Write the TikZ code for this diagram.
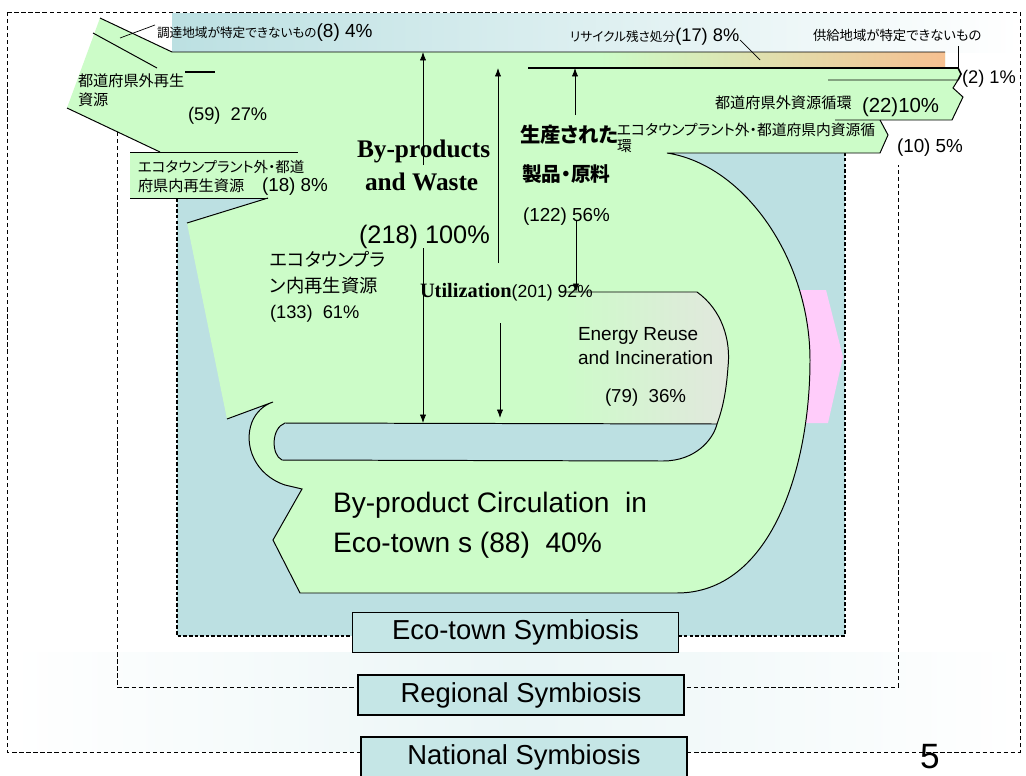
\documentclass[tikz,border=0pt]{standalone}
\usepackage{fontspec}
\setmainfont{Liberation Sans}
\newfontfamily\jp[RawFeature=+palt]{Noto Sans CJK JP}
\newfontfamily\tnr{Liberation Serif}
\usetikzlibrary{arrows.meta}
\definecolor{gr}{RGB}{204,252,200}
\definecolor{eb}{RGB}{188,224,226}
\definecolor{symb}{RGB}{197,230,230}
\definecolor{pk}{RGB}{255,204,250}
\definecolor{peach}{RGB}{246,192,145}
\definecolor{eg}{RGB}{226,231,222}
\newcommand\fsz[1]{\fontsize{#1}{#1}\selectfont}
\begin{document}
\begin{tikzpicture}[x=0.025cm,y=-0.025cm,
  lbl/.style={anchor=base west,inner sep=0pt,outer sep=0pt},
  ol/.style={draw=black,line width=0.7pt},
  arr/.style={-{Latex[length=6pt,width=4.5pt]},line width=0.6pt},
  dashframe/.style={draw=black,line width=0.5pt,dash pattern=on 3pt off 2pt},
  ecoframe/.style={draw=black,line width=1pt,dash pattern=on 2.5pt off 1.5pt},
  symbox/.style={draw=black,fill=symb,line width=0.8pt,inner sep=0pt,minimum width=8.15cm,minimum height=1cm,font=\fsz{19.5}}]
\useasboundingbox (0,0) rectangle (1026,776);
\clip (0,0) rectangle (1026,776);
\fill[white] (0,0) rectangle (1026,776);
% backgrounds
\shade[left color=white,right color=white,middle color=eb!30] (10,652) rectangle (1018,751);
\shade[left color=eb,right color=white] (172,13) rectangle (1019,52);
\fill[eb] (177,52) rectangle (845,636);
% frames
\draw[dashframe] (7,12) rectangle (1020,752);
\draw[dashframe] (117,132) -- (117,687) -- (898,687) -- (898,165);
\draw[ecoframe] (177,198) -- (177,636) -- (845,636) -- (845,153);
% pink arrow
\fill[pk] (790,290) -- (826,290) -- (843,357) -- (828,423) -- (790,423) -- cycle;
% main green flow
\fill[gr] (100,18) -- (172,52) -- (945,52) -- (945,68) -- (958,68) -- (961,74) -- (958,80) -- (953,88) -- (963,97) -- (952,120) -- (880,120) -- (888,135) -- (880,153) -- (667,153)
  .. controls (745,165) and (810,260) .. (810,360)
  .. controls (810,470) and (770,593) .. (677,593)
  -- (300,593) -- (273,540) -- (302,489) -- (285,485)
  .. controls (255,475) and (243,445) .. (252,422)
  .. controls (256,412) and (264,405) .. (273,402)
  -- (227,419) -- (187,223) -- (268,198) -- (298,198) -- (298,152) -- (160,152) -- (67,108) -- cycle;
% orange strip
\shade[left color=gr,right color=peach] (600,52) rectangle (945,68);
% energy region and blue bar
\shade[left color=gr,right color=eg] (555,292) -- (697,292) .. controls (722,310) and (731,340) .. (728,367) .. controls (726,395) and (722,410) .. (717,424) -- (555,424) -- cycle;
\fill[eb] (285,423) -- (717,424) .. controls (713,440) and (695,461) .. (663,461) -- (282,460) .. controls (271,455) and (271,428) .. (285,423) -- cycle;
% box of (18)
\fill[gr] (130,152) rectangle (298,198);
% outlines
\draw[ol] (100,18) -- (172,52) -- (945,52);
\draw[ol,line width=1.1pt] (528,68) -- (958,68) -- (961,74) -- (958,80);
\draw[ol] (828,80) -- (958,80) -- (953,88) -- (963,97) -- (952,120) -- (835,120);
\draw[ol] (880,120) -- (888,135) -- (880,153) -- (667,153)
  .. controls (745,165) and (810,260) .. (810,360)
  .. controls (810,470) and (770,593) .. (677,593)
  -- (300,593) -- (273,540) -- (302,489) -- (285,485)
  .. controls (255,475) and (243,445) .. (252,422)
  .. controls (256,412) and (264,405) .. (273,402) -- (227,419);
\draw[ol] (187,223) -- (268,198);
\draw[ol] (67,108) -- (160,152);
\draw[ol] (93,33) -- (157,68);
\draw[line width=2pt] (185,72) -- (215,72);
\draw[ol] (130,152) -- (298,152);
\draw[ol] (130,198) -- (268,198);
\draw[ol] (560,292) -- (697,292) .. controls (722,310) and (731,340) .. (728,367) .. controls (726,395) and (722,410) .. (717,424) .. controls (713,440) and (695,461) .. (663,461);
\draw[ol] (717,424) -- (285,423) .. controls (271,428) and (271,455) .. (282,460) -- (663,461);
% leaders
\coordinate (ld1a) at (120,38); \coordinate (ld1b) at (155,25);
\draw[line width=0.5pt] (ld1a) -- (ld1b);
\coordinate (ld2a) at (740,40); \coordinate (ld2b) at (760,60);
\draw[line width=0.5pt] (ld2a) -- (ld2b);
\coordinate (ld3a) at (958,46); \coordinate (ld3b) at (958,68);
\draw[line width=0.5pt] (ld3a) -- (ld3b);
% arrows
\coordinate (a1t) at (423,52); \coordinate (a1s) at (423,165);
\coordinate (a1u) at (423,248); \coordinate (a1b) at (423,423);
\draw[arr] (a1s) -- (a1t); \draw[arr] (a1u) -- (a1b);
\coordinate (a2t) at (498,68); \coordinate (a2s) at (498,263);
\coordinate (a2u) at (500,323); \coordinate (a2b) at (500,418);
\draw[arr] (a2s) -- (a2t); \draw[arr] (a2u) -- (a2b);
\coordinate (a3t) at (575,68); \coordinate (a3s) at (575,115);
\coordinate (a3u) at (576,220); \coordinate (a3b) at (576,292);
\draw[arr] (a3s) -- (a3t); \draw[arr] (a3u) -- (a3b);
% texts
\node[lbl] (t1) at (157,37) {{\jp\fsz{9}調達地域が特定できないもの}{\fsz{13.5}(8)\ 4\%}};
\node[lbl] (t2) at (570,42) {{\jp\fsz{9}リサイクル残さ処分}{\fsz{13}(17) 8\%}};
\node[lbl] (t3) at (813,40) {\jp\fsz{9.5}供給地域が特定できないもの};
\node[lbl] (t4) at (962,83) {\fsz{13}(2) 1\%};
\node[lbl] (t5) at (715,108) {\jp\fsz{10.8}都道府県外資源循環};
\node[lbl] (t6) at (862,112) {\fsz{14.5}(22)10\%};
\node[lbl] (t7) at (617,135) {\jp\fsz{10.5}エコタウンプラント外・都道府県内資源循};
\node[lbl] (t8) at (617,151) {\jp\fsz{10.5}環};
\node[lbl] (t9) at (897,152) {\fsz{13.4}(10) 5\%};
\node[lbl] (t10) at (78,86) {\jp\fsz{10.8}都道府県外再生};
\node[lbl] (t11) at (78,105) {\jp\fsz{10.8}資源};
\node[lbl] (t12) at (188,120) {\fsz{13}(59)\ \ 27\%};
\node[lbl] (t13) at (138,172) {\jp\fsz{10.3}エコタウンプラント外・都道};
\node[lbl] (t14) at (138,191) {\jp\fsz{10.8}府県内再生資源};
\node[lbl] (t15) at (262,191) {\fsz{13.4}(18) 8\%};
\node[lbl] (t16) at (357,157) {\tnr\bfseries\fsz{18}By-products};
\node[lbl] (t17) at (365,190) {\tnr\bfseries\fsz{18}and Waste};
\node[lbl] (t18) at (359,243) {\fsz{18}(218) 100\%};
\node[lbl] (t19) at (520,142) {\jp\bfseries\fsz{14.5}生産された};
\node[lbl] (t20) at (522,181) {\jp\bfseries\fsz{14}製品・原料};
\node[lbl] (t21) at (523,221) {\fsz{13.4}(122) 56\%};
\node[lbl] (t22) at (270,266) {\jp\fsz{13}エコタウンプラ};
\node[lbl] (t23) at (270,292) {\jp\fsz{13}ン内再生資源};
\node[lbl] (t24) at (270,318) {\fsz{13}(133)\ \ 61\%};
\node[lbl] (t25) at (420,297) {{\tnr\bfseries\fsz{14.5}Utilization}{\fsz{12.5}(201) 92\%}};
\node[lbl] (t26) at (578,340) {\fsz{13.5}Energy Reuse};
\node[lbl] (t27) at (578,364) {\fsz{13.5}and Incineration};
\node[lbl] (t28) at (605,402) {\fsz{13.3}(79)\ \ 36\%};
\node[lbl] (t29) at (333,512) {\fsz{20}By-product Circulation\ \ in};
\node[lbl] (t30) at (333,552) {\fsz{20}Eco-town s (88)\ \ 40\%};
% symbiosis boxes
\node[symbox] (eco) at (515.5,632.5) {Eco-town Symbiosis};
\node[symbox] (reg) at (521,695) {Regional Symbiosis};
\node[symbox] (nat) at (524,757) {National Symbiosis};
\node[anchor=north,inner sep=0pt] (pg) at (930,744) {\fsz{25}5};
\end{tikzpicture}
\end{document}
